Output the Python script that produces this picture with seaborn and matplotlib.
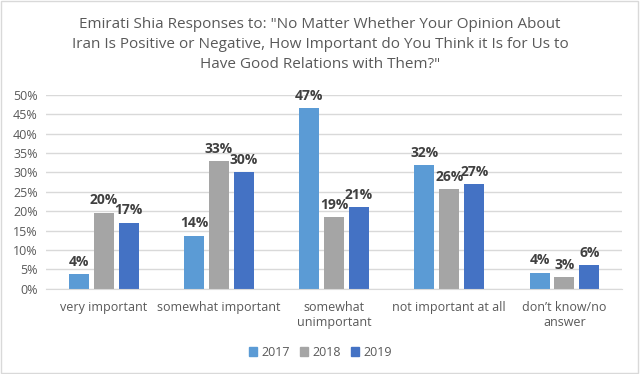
import pandas as pd
import numpy as np
import matplotlib.pyplot as plt
import seaborn as sns
from matplotlib.patches import Rectangle

categories = ['very important', 'somewhat important', 'somewhat\nunimportant',
              'not important at all', 'don\u2019t know/no\nanswer']
years = ['2017', '2018', '2019']
v2017 = [3.7, 13.6, 46.6, 31.9, 4.1]
v2018 = [19.6, 32.9, 18.4, 25.7, 3.0]
v2019 = [17.0, 30.0, 21.0, 27.0, 6.1]
labels2017 = ['4%', '14%', '47%', '32%', '4%']
labels2018 = ['20%', '33%', '19%', '26%', '3%']
labels2019 = ['17%', '30%', '21%', '27%', '6%']

palette = ['#5B9BD5', '#A5A5A5', '#4472C4']

rows = []
for yr, vals in zip(years, [v2017, v2018, v2019]):
    for c, v in zip(categories, vals):
        rows.append({'category': c, 'year': yr, 'value': v})
df = pd.DataFrame(rows)

plt.rcParams['font.family'] = ['Open Sans', 'DejaVu Sans']

fig = plt.figure(figsize=(6.4, 3.74), dpi=100)
ax = fig.add_axes([0.072, 0.228, 0.9, 0.518])

sns.barplot(data=df, x='category', y='value', hue='year', palette=palette,
            width=0.65, gap=0.2, saturation=1, ax=ax, legend=False)

for cont, labs in zip(ax.containers, [labels2017, labels2018, labels2019]):
    ax.bar_label(cont, labels=labs, padding=4, fontsize=10, fontweight='bold',
                 color='#404040')

ax.set_ylim(0, 50)
ax.set_yticks(np.arange(0, 51, 5))
ax.set_yticklabels([f'{t}%' for t in range(0, 51, 5)])
ax.yaxis.grid(True, color='#D9D9D9', linewidth=1)
ax.set_axisbelow(True)
for s in ['top', 'right', 'left']:
    ax.spines[s].set_visible(False)
ax.spines['bottom'].set_color('#D9D9D9')
ax.tick_params(axis='both', length=0, colors='#595959', labelsize=9)
ax.tick_params(axis='y', pad=6)
ax.tick_params(axis='x', pad=8.5)
ax.set_xlabel('')
ax.set_ylabel('')

fig.text(0.5, 0.882, 'Emirati Shia Responses to: "No Matter Whether Your Opinion About\n'
         'Iran Is Positive or Negative, How Important do You Think it Is for Us to\n'
         'Have Good Relations with Them?"', ha='center', va='center',
         fontsize=11, color='#595959', linespacing=1.45)

handles = [Rectangle((0, 0), 1, 1, color=c) for c in palette]
fig.legend(handles, years, loc='lower center', ncol=3, frameon=False,
           bbox_to_anchor=(0.5, 0.01), fontsize=9, labelcolor='#595959',
           handlelength=0.7, handleheight=0.7, handletextpad=0.3, columnspacing=0.8)

fig.patches.append(Rectangle((0.002, 0.003), 0.995, 0.994, transform=fig.transFigure,
                             fill=False, edgecolor='#D9D9D9', linewidth=1))

fig.savefig('out.png', dpi=100)
